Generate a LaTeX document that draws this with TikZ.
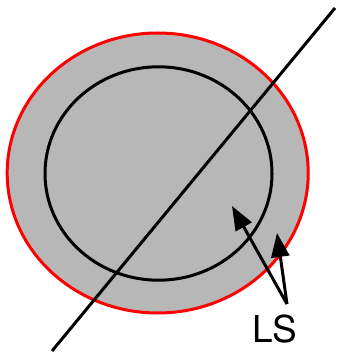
\documentclass[tikz,border=0pt]{standalone}
\usepackage{fontspec}
\setsansfont{TeX Gyre Heros}
\usetikzlibrary{arrows.meta}
\definecolor{LayerGray}{HTML}{B7B7B7}
\definecolor{LayerRed}{HTML}{FF0000}

\begin{document}
\begin{tikzpicture}[x=1pt,y=-1pt,
    ring/.style={line width=3pt},
    pointer/.style={line width=3pt,-{Triangle[length=24pt,width=18pt]}}]
    \useasboundingbox (0,0) rectangle (339,355);
    % outer layer and inner ring
    \draw[ring,LayerRed,fill=LayerGray] (157.7,173) ellipse [x radius=150.5,y radius=140];
    \draw[ring,black] (158.5,173.5) ellipse [x radius=113.5,y radius=106.7];
    % cutting line
    \coordinate (cutlow) at (52,351);
    \coordinate (cuthigh) at (335,8);
    \draw[ring,black] (cutlow) -- (cuthigh);
    % label and its pointers
    \node[font=\sffamily\fontsize{37}{37}\selectfont] (ls) at (275,329) {LS};
    \coordinate (fork) at (287,304);
    \coordinate (innertip) at (232,206);
    \coordinate (outertip) at (277,233);
    \draw[pointer] (fork) -- (innertip);
    \draw[pointer] (fork) -- (outertip);
\end{tikzpicture}
\end{document}
